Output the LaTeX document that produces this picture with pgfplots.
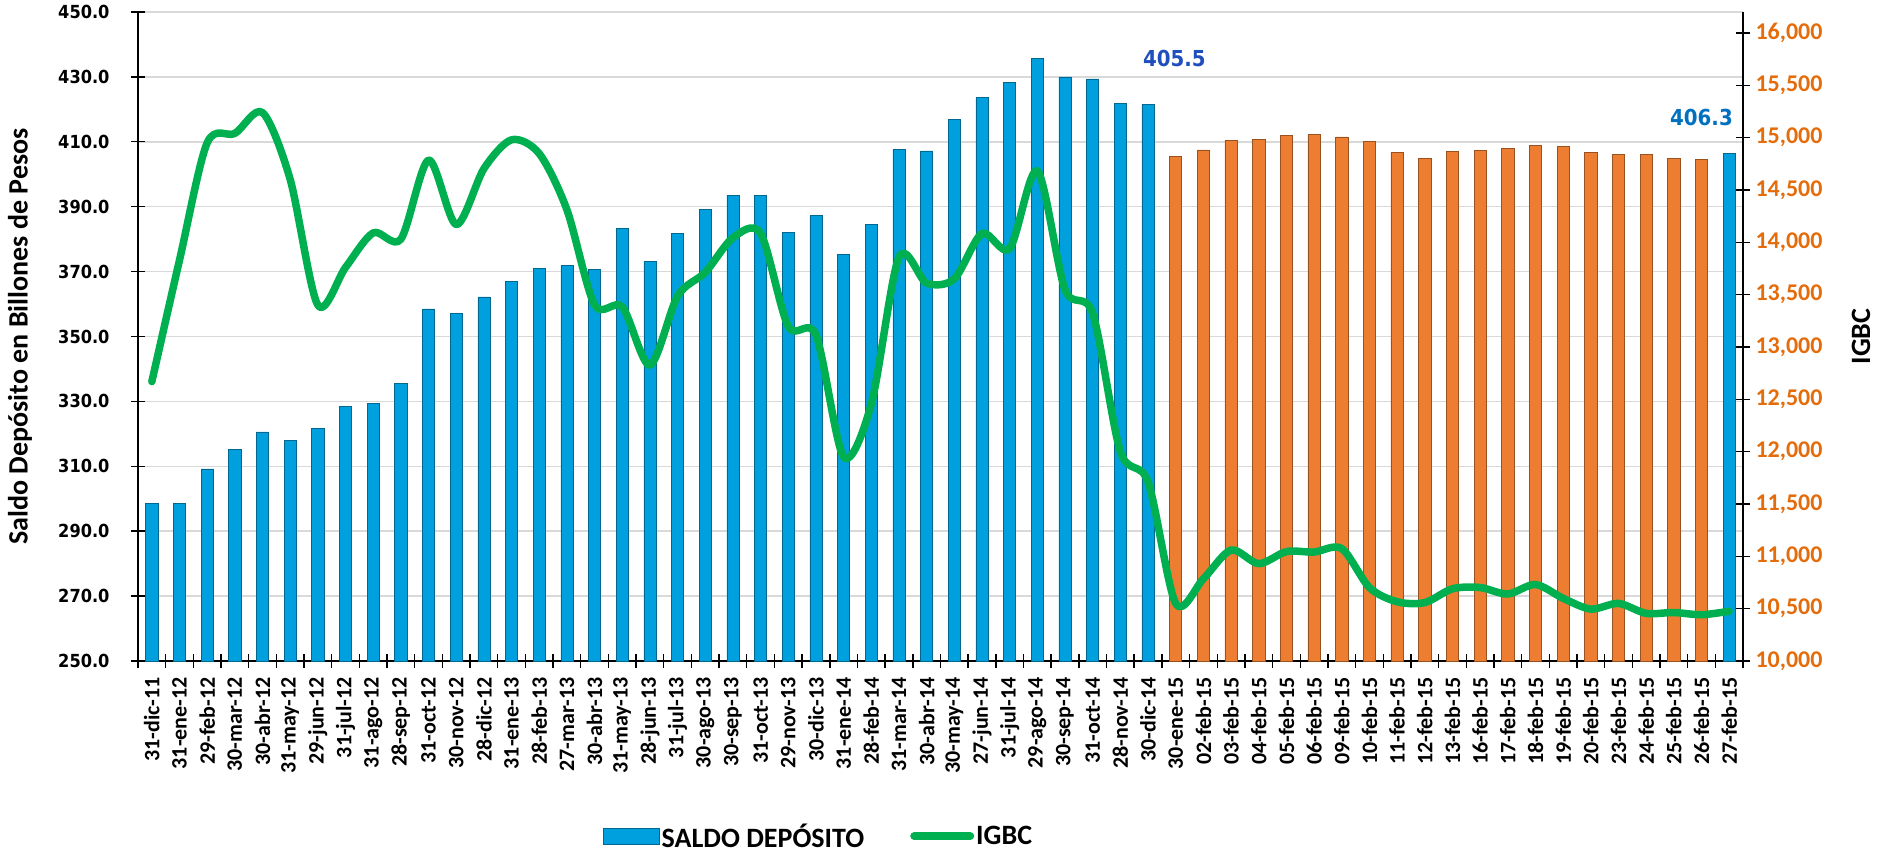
\documentclass[border=0pt]{standalone}
\usepackage{fontspec}
\setmainfont{Carlito}
\newfontfamily\dvs{DejaVu Sans Condensed}
\usepackage{pgfplots}
\usepackage{pgfplotstable}
\pgfplotsset{compat=1.18}
\definecolor{barblue}{RGB}{0,160,222}
\definecolor{barorange}{RGB}{237,125,49}
\definecolor{igbc}{RGB}{0,176,80}
\definecolor{lbla}{RGB}{31,78,189}
\definecolor{lblb}{RGB}{0,112,192}
\definecolor{rorange}{RGB}{228,108,10}

\pgfplotstableread{
x y
0 298.6
1 298.5
2 309.2
3 315.1
4 320.6
5 318.0
6 321.6
7 328.4
8 329.3
9 335.6
10 358.5
11 357.2
12 362.2
13 366.9
14 371.1
15 371.8
16 370.7
17 383.3
18 373.1
19 381.8
20 389.2
21 393.5
22 393.5
23 382.2
24 387.2
25 375.3
26 384.5
27 407.6
28 407.2
29 416.9
30 423.7
31 428.2
32 435.7
33 430.0
34 429.4
35 421.9
36 421.6
57 406.3
}\blueTbl

\pgfplotstableread{
x y
37 405.5
38 407.5
39 410.5
40 410.7
41 411.9
42 412.3
43 411.5
44 410.1
45 406.8
46 404.9
47 407.0
48 407.4
49 407.9
50 408.9
51 408.6
52 406.8
53 406.2
54 406.0
55 404.9
56 404.6
}\orangeTbl

\pgfplotstableread{
x y
0 12669
1 13830
2 14950
3 15040
4 15239
5 14600
6 13400
7 13760
8 14090
9 14030
10 14785
11 14170
12 14703
13 14979
14 14847
15 14311
16 13403
17 13383
18 12826
19 13486
20 13713
21 14043
22 14084
23 13197
24 13115
25 11950
26 12455
27 13857
28 13610
29 13651
30 14084
31 13940
32 14682
33 13548
34 13321
35 12001
36 11712
37 10550
38 10785
39 11060
40 10930
41 11045
42 11041
43 11074
44 10702
45 10566
46 10558
47 10690
48 10702
49 10640
50 10731
51 10599
52 10496
53 10550
54 10455
55 10463
56 10442
57 10475
}\igbcTbl

\begin{document}
\begin{tikzpicture}
\begin{axis}[
  at={(0,0)}, anchor=south west,
  width=1605pt, height=649pt, scale only axis,
  xmin=-0.5, xmax=57.5, ymin=250, ymax=450,
  axis x line*=bottom, axis y line*=left,
  axis line style={line width=1.6pt, black, -},
  xtick={0,...,57},
  xticklabels={31-dic-11,31-ene-12,29-feb-12,30-mar-12,30-abr-12,31-may-12,29-jun-12,31-jul-12,31-ago-12,28-sep-12,31-oct-12,30-nov-12,28-dic-12,31-ene-13,28-feb-13,27-mar-13,30-abr-13,31-may-13,28-jun-13,31-jul-13,30-ago-13,30-sep-13,31-oct-13,29-nov-13,30-dic-13,31-ene-14,28-feb-14,31-mar-14,30-abr-14,30-may-14,27-jun-14,31-jul-14,29-ago-14,30-sep-14,31-oct-14,28-nov-14,30-dic-14,30-ene-15,02-feb-15,03-feb-15,04-feb-15,05-feb-15,06-feb-15,09-feb-15,10-feb-15,11-feb-15,12-feb-15,13-feb-15,16-feb-15,17-feb-15,18-feb-15,19-feb-15,20-feb-15,23-feb-15,24-feb-15,25-feb-15,26-feb-15,27-feb-15},
  major x tick style={draw=none},
  minor xtick={-0.5,0.5,...,57.5},
  minor x tick style={line width=1.4pt, black},
  minor tick length=14pt,
  tick align=center,
  ytick={250,270,...,450},
  major tick length=14pt,
  major y tick style={line width=1.4pt, black},
  ymajorgrids, grid style={gray!30, line width=1.5pt},
  xticklabel style={rotate=90, anchor=east, inner sep=0pt, font=\bfseries\fontsize{22}{22}\selectfont},
  xticklabel shift=9pt,
  yticklabel style={font=\dvs\bfseries\fontsize{18}{18}\selectfont, xshift=-18pt},
  y tick label style={/pgf/number format/fixed, /pgf/number format/fixed zerofill, /pgf/number format/precision=1, /pgf/number format/assume math mode=true},
  ylabel={Saldo Depósito en Billones de Pesos},
  every axis y label/.style={at={(axis description cs:0,0.5)}, xshift=-118pt, rotate=90, anchor=center, font=\bfseries\fontsize{28}{28}\selectfont},
  clip=false,
]
\addplot[ybar, bar width=0.44, bar shift=0pt, fill=barblue, draw=barblue!65!black, line width=0.6pt] table[x=x,y=y] {\blueTbl};
\addplot[ybar, bar width=0.44, bar shift=0pt, fill=barorange, draw=barorange!65!black, line width=0.6pt] table[x=x,y=y] {\orangeTbl};
\node[font=\dvs\bfseries\fontsize{22}{22}\selectfont, text=lbla] at (axis cs:36.95,435.8) {405.5};
\node[font=\dvs\bfseries\fontsize{22}{22}\selectfont, text=lblb] at (axis cs:56.0,417.6) {406.3};
\end{axis}
\begin{axis}[
  at={(0,0)}, anchor=south west,
  width=1605pt, height=649pt, scale only axis,
  xmin=-0.5, xmax=57.5, ymin=10000, ymax=16200,
  axis y line*=right, axis x line=none,
  axis line style={line width=1.6pt, black, -},
  ytick={10000,10500,...,16000},
  scaled y ticks=false,
  tick align=center, major tick length=14pt,
  major y tick style={line width=1.4pt, black},
  yticklabel style={font=\bfseries\fontsize{24}{24}\selectfont, text=rorange, xshift=2pt},
  y tick label style={/pgf/number format/fixed, /pgf/number format/1000 sep={,}, /pgf/number format/assume math mode=true},
  ylabel={IGBC},
  every axis y label/.style={at={(axis description cs:1,0.5)}, xshift=118pt, rotate=90, anchor=center, font=\bfseries\fontsize{28}{28}\selectfont},
  legend columns=2,
  legend style={draw=none, fill=none, at={(axis description cs:0.424,-0.270)}, anchor=center, font=\bfseries\fontsize{28}{28}\selectfont, /tikz/every even column/.append style={column sep=44pt}},
  clip=false,
]
\addlegendimage{legend image code/.code={\fill[barblue] (0pt,-8pt) rectangle (56pt,8pt); \draw[barblue!65!black, line width=0.8pt] (0pt,-8pt) rectangle (56pt,8pt);}}
\addlegendentry{SALDO DEPÓSITO}
\addplot[igbc, line width=7.5pt, smooth, tension=0.5, line cap=round, line join=round, legend image code/.code={\draw[igbc, line width=8pt, line cap=round] (2pt,0pt) -- (58pt,0pt);}] table[x=x,y=y] {\igbcTbl};
\addlegendentry{IGBC}
\end{axis}
\pgfresetboundingbox
\useasboundingbox (-138pt,-192pt) rectangle (1739pt,661pt);
\end{tikzpicture}
\end{document}
